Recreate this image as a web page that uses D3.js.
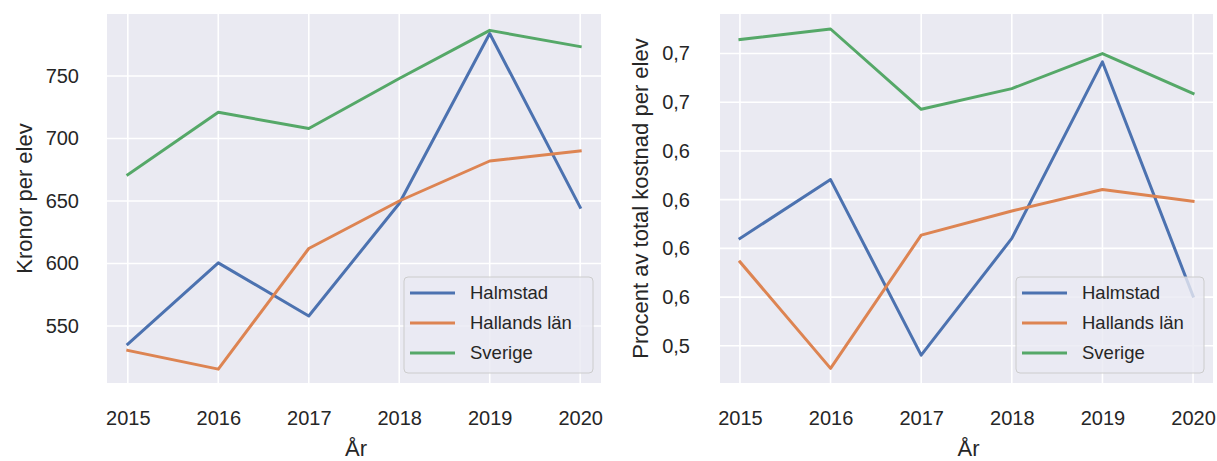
<!DOCTYPE html>
<html><head><meta charset="utf-8">
<script src="https://cdn.jsdelivr.net/npm/d3@7"></script>
<style>
html,body{margin:0;padding:0;background:#fff;}
svg{display:block;font-family:"Liberation Sans",Arial,Helvetica,sans-serif;}
</style></head>
<body><svg id="c" width="1217" height="461"></svg>
<script>
const years = [2015, 2016, 2017, 2018, 2019, 2020];
const seriesNames = ["Halmstad", "Hallands län", "Sverige"];
const colors = ["#4C72B0", "#DD8452", "#55A868"];

// Left panel: Kronor per elev
const kronorHalmstad = [535.5, 600.5, 558, 648, 784, 645];
const kronorHalland  = [530.5, 515.5, 612, 650, 682, 690];
const kronorSverige  = [671, 721, 708, 748, 786.5, 773.5];
const kronorTicks = [550, 600, 650, 700, 750];
const kronorTickLabels = ["550", "600", "650", "700", "750"];

// Right panel: Procent av total kostnad per elev
const procHalmstad = [0.5801, 0.6103, 0.5202, 0.5801, 0.6707, 0.5505];
const procHalland  = [0.5681, 0.5134, 0.5818, 0.5942, 0.6052, 0.5992];
const procSverige  = [0.6822, 0.6876, 0.6464, 0.6570, 0.6750, 0.6545];
const procTicks = [0.525, 0.55, 0.575, 0.6, 0.625, 0.65, 0.675];
const procTickLabels = ["0,5", "0,6", "0,6", "0,6", "0,6", "0,7", "0,7"];

const svg = d3.select("#c");

function panel(cfg){
  const g = svg.append("g");
  const x = d3.scaleLinear().domain(cfg.xDomain).range([cfg.left, cfg.right]);
  const y = d3.scaleLinear().domain(cfg.yDomain).range([cfg.bottom, cfg.top]);
  g.append("rect").attr("x", cfg.left).attr("y", cfg.top)
    .attr("width", cfg.right - cfg.left).attr("height", cfg.bottom - cfg.top)
    .attr("fill", "#EAEAF2");
  // gridlines
  g.selectAll(".gx").data(years).enter().append("line")
    .attr("x1", d => x(d)).attr("x2", d => x(d))
    .attr("y1", cfg.top).attr("y2", cfg.bottom)
    .attr("stroke", "#fff").attr("stroke-width", 1.6);
  g.selectAll(".gy").data(cfg.yTicks).enter().append("line")
    .attr("x1", cfg.left).attr("x2", cfg.right)
    .attr("y1", d => y(d)).attr("y2", d => y(d))
    .attr("stroke", "#fff").attr("stroke-width", 1.6);
  // axes
  const xa = g.append("g").attr("transform", `translate(0,${cfg.bottom})`)
    .call(d3.axisBottom(x).tickValues(years).tickFormat(d3.format("d")).tickSize(0).tickPadding(28));
  xa.select(".domain").remove();
  xa.selectAll("text").attr("font-size", 20).attr("fill", "#262626")
    .attr("font-family", "Liberation Sans, Arial, sans-serif");
  const ya = g.append("g").attr("transform", `translate(${cfg.left},0)`)
    .call(d3.axisLeft(y).tickValues(cfg.yTicks).tickFormat((d,i) => cfg.yTickLabels[i]).tickSize(0).tickPadding(cfg.yPad));
  ya.select(".domain").remove();
  ya.selectAll("text").attr("font-size", 20).attr("fill", "#262626")
    .attr("font-family", "Liberation Sans, Arial, sans-serif");
  // axis labels
  g.append("text").attr("x", (cfg.left + cfg.right) / 2 + 2).attr("y", 456)
    .attr("text-anchor", "middle").attr("font-size", 22).attr("fill", "#262626").text("År");
  g.append("text")
    .attr("transform", `translate(${cfg.ylabelX},${(cfg.top + cfg.bottom) / 2}) rotate(-90)`)
    .attr("text-anchor", "middle").attr("dy", "0.35em").attr("font-size", 22).attr("fill", "#262626")
    .text(cfg.ylabel);
  // lines
  const line = d3.line().x((d, i) => x(years[i])).y(d => y(d));
  cfg.series.forEach((s, i) => {
    g.append("path").datum(s).attr("d", line).attr("fill", "none")
      .attr("stroke", colors[i]).attr("stroke-width", 3)
      .attr("stroke-linejoin", "round").attr("stroke-linecap", "square");
  });
  // legend
  const lg = g.append("g").attr("transform", `translate(${cfg.legX},${cfg.legY})`);
  lg.append("rect").attr("x", 0).attr("y", 0).attr("width", cfg.legW).attr("height", 96)
    .attr("rx", 4).attr("fill", "#EAEAF2").attr("fill-opacity", 0.8)
    .attr("stroke", "#CCCCCC").attr("stroke-width", 1);
  seriesNames.forEach((n, i) => {
    const yy = 16 + i * 30;
    lg.append("line").attr("x1", 6).attr("x2", 51).attr("y1", yy).attr("y2", yy)
      .attr("stroke", colors[i]).attr("stroke-width", 3);
    lg.append("text").attr("x", 66).attr("y", yy).attr("dy", "0.35em")
      .attr("font-size", 18.5).attr("fill", "#262626").text(n);
  });
}

panel({
  left: 107, right: 601, top: 14, bottom: 383,
  xDomain: [2014.77, 2020.23], yDomain: [504.4, 799.6],
  yTicks: kronorTicks, yTickLabels: kronorTickLabels, yPad: 28,
  ylabel: "Kronor per elev", ylabelX: 24,
  series: [kronorHalmstad, kronorHalland, kronorSverige],
  legX: 404, legY: 277, legW: 189
});
panel({
  left: 720, right: 1213, top: 14, bottom: 383,
  xDomain: [2014.78, 2020.22], yDomain: [0.5059, 0.6953],
  yTicks: procTicks, yTickLabels: procTickLabels, yPad: 30,
  ylabel: "Procent av total kostnad per elev", ylabelX: 640,
  series: [procHalmstad, procHalland, procSverige],
  legX: 1016, legY: 277, legW: 188
});
</script></body></html>
